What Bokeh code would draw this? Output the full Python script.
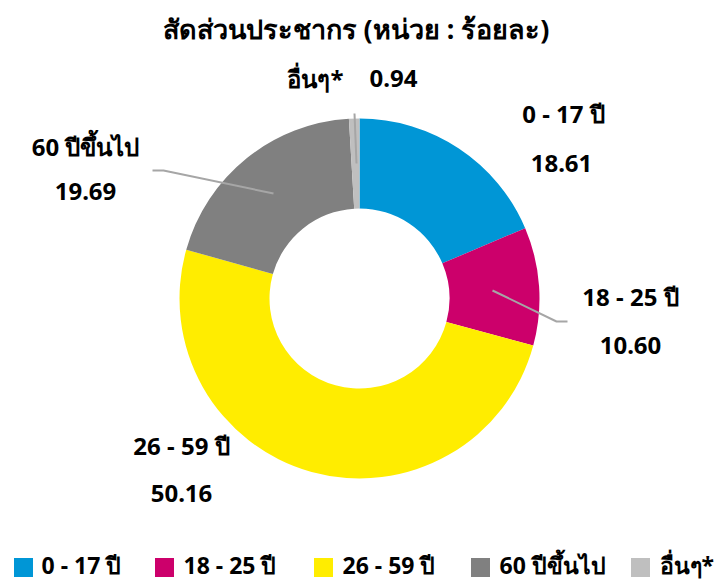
import math
from bokeh.plotting import figure
from bokeh.models import Range1d
from bokeh.core.properties import value
from bokeh.embed import file_html
from bokeh.resources import INLINE

# ---- data ----
categories = ["0 - 17 ปี", "18 - 25 ปี", "26 - 59 ปี", "60 ปีขึ้นไป", "อื่นๆ*"]
shares = [18.61, 10.60, 50.16, 19.69, 0.94]
share_labels = ["18.61", "10.60", "50.16", "19.69", "0.94"]
colors = ["#0096D6", "#CC006B", "#FFED00", "#808080", "#BFBFBF"]
title_text = "สัดส่วนประชากร  (หน่วย : ร้อยละ)"

FONT = "Noto Sans"
W, H = 720, 582

def Y(page_y):
    return H - page_y

p = figure(width=W, height=H, output_backend="svg", toolbar_location=None,
           x_range=Range1d(0, W), y_range=Range1d(0, H),
           min_border=0, outline_line_color=None)
p.axis.visible = False
p.grid.visible = False
p.background_fill_color = "white"

cx, cy = 359, Y(298)
total = sum(shares)
starts, ends = [], []
cum = 0.0
for s in shares:
    starts.append(math.pi / 2 - 2 * math.pi * cum / total)
    cum += s
    ends.append(math.pi / 2 - 2 * math.pi * cum / total)

p.annular_wedge(x=[cx] * len(shares), y=[cy] * len(shares),
                inner_radius=90, outer_radius=180,
                start_angle=starts, end_angle=ends, direction="clock",
                fill_color=colors, line_color=None)

# leader lines
lc = "#A6A6A6"
p.line(x=[152, 163, 273], y=[Y(170), Y(170), Y(193)], line_color=lc, line_width=2)
p.line(x=[492, 556, 567], y=[Y(290), Y(321), Y(321)], line_color=lc, line_width=2)
p.line(x=[354, 356], y=[Y(113), Y(163)], line_color=lc, line_width=2)

# data labels
lab_fs = "24px"
name_pos = [(563, 113), (630, 296), (181, 445), (85, 146), (315, 78)]
val_pos = [(561, 163), (630, 345), (181, 493), (85, 191), (393, 78)]
p.text(x=[q[0] for q in name_pos], y=[Y(q[1]) for q in name_pos], text=categories,
       text_align="center", text_baseline="middle", text_font=value(FONT),
       text_font_size=lab_fs, text_color="#000000", text_font_style="bold")
p.text(x=[q[0] for q in val_pos], y=[Y(q[1]) for q in val_pos], text=share_labels,
       text_align="center", text_baseline="middle", text_font=value(FONT),
       text_font_size=lab_fs, text_color="#000000", text_font_style="bold")

# title
p.text(x=[359], y=[Y(28)], text=[title_text], text_align="center",
       text_baseline="middle", text_font=value(FONT), text_font_size="27px",
       text_font_style="bold", text_color="#000000")

# legend (manual)
sq_x = [23, 164, 323, 480, 640]
txt_x = [41, 183, 342, 499, 659]
p.rect(x=sq_x, y=[Y(567)] * 5, width=19, height=19, fill_color=colors, line_color=None)
p.text(x=txt_x, y=[Y(564)] * 5, text=categories, text_align="left", text_baseline="middle",
       text_font=value(FONT), text_font_size="23px", text_color="#000000",
       text_font_style="bold")

open("out.html", "w").write(file_html(p, INLINE))
